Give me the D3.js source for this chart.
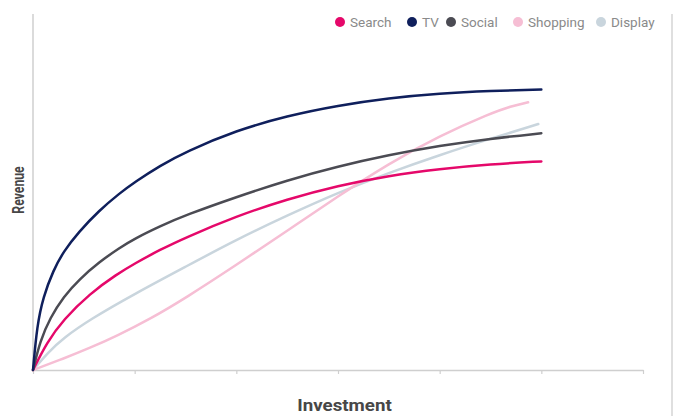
<!DOCTYPE html>
<html>
<head>
<meta charset="utf-8">
<script src="https://cdn.jsdelivr.net/npm/d3@7"></script>
<style>
  html, body { margin: 0; padding: 0; background: #fff; }
  svg { display: block; }
</style>
</head>
<body>
<div id="chart"></div>
<script>
// ---- data (x in tick intervals, y in % of axis height) ----
const seriesNames = ["Search", "TV", "Social", "Shopping", "Display"];
const seriesColors = ["#e5086a", "#0f1f5c", "#4b4b53", "#f6bed4", "#c9d5dd"];

const xTV      = [0, 0.04, 0.1, 0.2, 0.3, 0.45, 0.65, 0.85, 1, 1.25, 1.5, 2, 2.5, 3, 3.5, 4, 4.5, 5];
const tvValues = [0, 12.5, 20.5, 28.0, 33.3, 38.8, 44.8, 49.6, 52.8, 57.4, 61.3, 67.3, 71.4, 74.3, 76.4, 77.7, 78.4, 78.8];

const xSocial      = [0, 0.07, 0.17, 0.3, 0.46, 0.65, 0.85, 1, 1.25, 1.5, 2, 2.5, 3, 3.5, 4, 4.5, 5];
const socialValues = [0, 8.2, 14.7, 20.6, 25.6, 30.3, 34.3, 36.9, 40.4, 43.5, 48.6, 53.3, 57.2, 60.4, 63.0, 65.0, 66.5];

const xSearch      = [0, 0.135, 0.3, 0.56, 0.825, 1, 1.25, 1.5, 2, 2.5, 3, 3.5, 4, 4.5, 5];
const searchValues = [0, 7.7, 14.2, 21.5, 26.9, 29.9, 33.8, 37.2, 43.2, 48.0, 51.8, 54.6, 56.5, 57.8, 58.6];

const xDisplay      = [0, 0.15, 0.3, 0.56, 1, 1.5, 2, 2.5, 3, 3.5, 4, 4.5, 4.97];
const displayValues = [0, 5.0, 9.0, 14.2, 21.4, 29.0, 36.6, 43.4, 49.8, 55.4, 60.4, 65.0, 69.1];

const xShopping      = [0, 0.3, 0.56, 0.825, 1.15, 1.5, 2, 2.5, 3, 3.5, 4, 4.5, 4.7, 4.87];
const shoppingValues = [0, 3.2, 6.2, 9.6, 14.3, 20.2, 29.5, 39.1, 48.8, 58.0, 65.8, 72.1, 74.1, 75.2];

const xTicks = [0, 1, 2, 3, 4, 5, 6];
const xTitle = "Investment";
const yTitle = "Revenue";

// ---- layout ----
const W = 675, H = 416;
const svg = d3.select("#chart").append("svg").attr("width", W).attr("height", H);

const x = d3.scaleLinear().domain([0, 6]).range([33, 643]);
const y = d3.scaleLinear().domain([0, 100]).range([370, 14]);

// right border line (frame edge visible in reference)
svg.append("line").attr("x1", 672).attr("x2", 672).attr("y1", 14).attr("y2", 416)
  .attr("stroke", "#d4d4d4").attr("stroke-width", 1.5);

// y axis (plain line)
svg.append("line").attr("x1", x(0)).attr("x2", x(0)).attr("y1", y(100)).attr("y2", y(0))
  .attr("stroke", "#cfcfcf").attr("stroke-width", 1.5);

// x axis with ticks, no labels
const xAxis = d3.axisBottom(x).tickValues(xTicks).tickSize(4).tickSizeOuter(0).tickFormat("");
const gx = svg.append("g").attr("transform", `translate(0,${y(0)})`).call(xAxis);
gx.select(".domain").attr("stroke", "#cfcfcf").attr("stroke-width", 1.5);
gx.selectAll(".tick line").attr("stroke", "#cfcfcf").attr("stroke-width", 1.2);

// series lines
const series = [
  { name: "Display",  xs: xDisplay,  ys: displayValues },
  { name: "Shopping", xs: xShopping, ys: shoppingValues },
  { name: "Search",   xs: xSearch,   ys: searchValues },
  { name: "Social",   xs: xSocial,   ys: socialValues },
  { name: "TV",       xs: xTV,       ys: tvValues }
];
const color = d3.scaleOrdinal().domain(seriesNames).range(seriesColors);
const line = d3.line().x(d => x(d[0])).y(d => y(d[1])).curve(d3.curveBasis);

svg.append("g").selectAll("path").data(series).join("path")
  .attr("d", s => line(s.xs.map((v, i) => [v, s.ys[i]])))
  .attr("fill", "none")
  .attr("stroke", s => color(s.name))
  .attr("stroke-width", 2.5)
  .attr("stroke-linecap", "round")
  .attr("stroke-linejoin", "round");

// legend
const legendX = [340, 412, 451, 518, 601];
const legend = svg.append("g").attr("font-family", "Roboto, 'Noto Sans', sans-serif")
  .attr("font-size", 13.5);
seriesNames.forEach((n, i) => {
  const g = legend.append("g").attr("transform", `translate(${legendX[i]},22)`);
  g.append("circle").attr("r", 5).attr("fill", color(n));
  g.append("text").attr("x", 10).attr("dy", "0.35em").attr("fill", "#8a8a8a").text(n);
});

// axis titles
svg.append("text").attr("transform", "translate(344.5,411) scale(1.17,1)").attr("text-anchor", "middle")
  .attr("font-family", "Roboto, 'Noto Sans', sans-serif").attr("font-weight", "bold")
  .attr("font-size", 16).attr("fill", "#474747").text(xTitle);

svg.append("text").attr("transform", "translate(24,190) rotate(-90) scale(0.72,1)").attr("text-anchor", "middle")
  .attr("font-family", "Roboto, 'Noto Sans', sans-serif").attr("font-weight", "bold")
  .attr("font-size", 17).attr("fill", "#474747").text(yTitle);
</script>
</body>
</html>
